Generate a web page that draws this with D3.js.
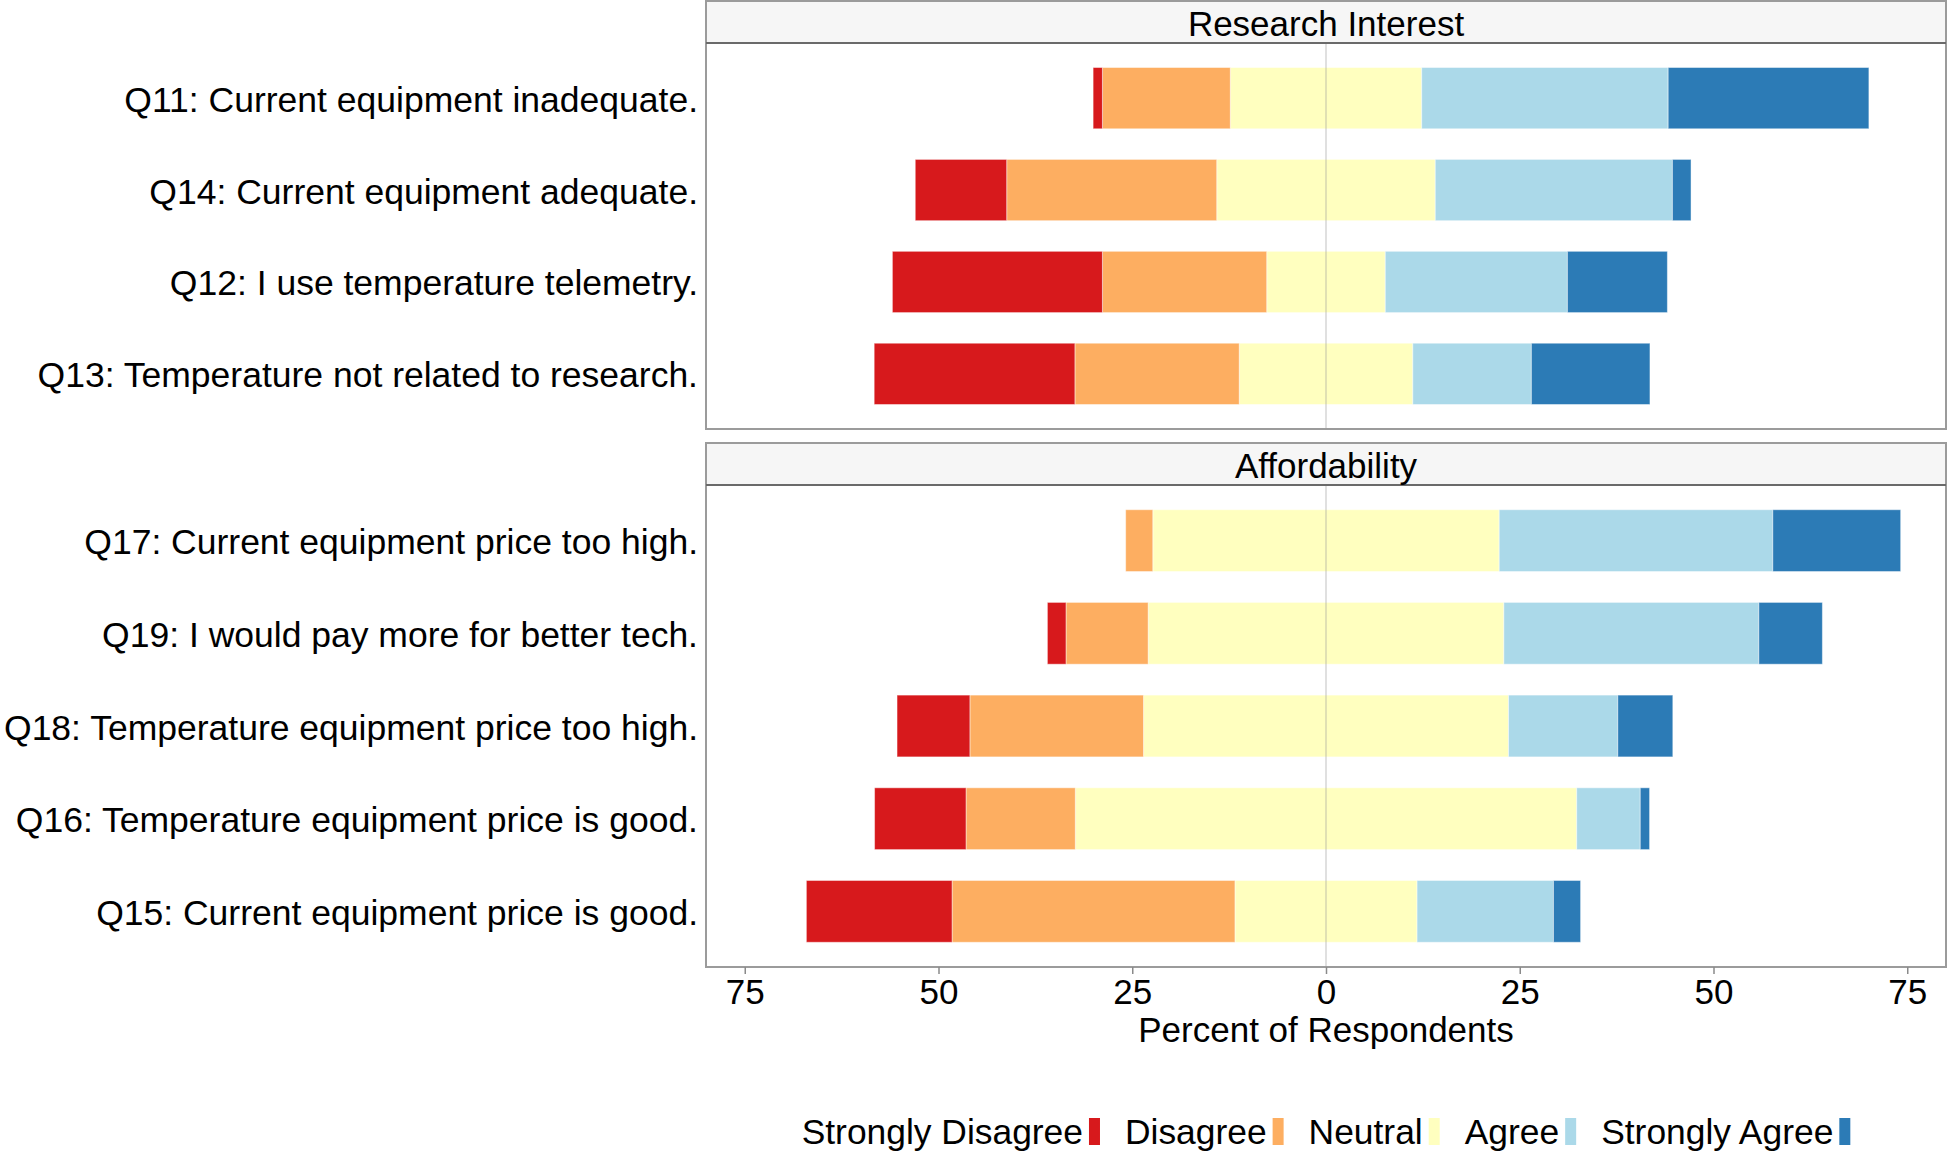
<!DOCTYPE html>
<html>
<head>
<meta charset="utf-8">
<script src="https://cdn.jsdelivr.net/npm/d3@7"></script>
<style>
  html, body { margin: 0; padding: 0; background: #ffffff; }
  svg { display: block; font-family: "Liberation Sans", Arial, Helvetica, sans-serif; }
</style>
</head>
<body>
<svg id="chart" width="1948" height="1154"></svg>
<script>
// ---------------- DATA ----------------
const panels = ["Research Interest", "Affordability"];
const questions = [
  "Q11: Current equipment inadequate.",
  "Q14: Current equipment adequate.",
  "Q12: I use temperature telemetry.",
  "Q13: Temperature not related to research.",
  "Q17: Current equipment price too high.",
  "Q19: I would pay more for better tech.",
  "Q18: Temperature equipment price too high.",
  "Q16: Temperature equipment price is good.",
  "Q15: Current equipment price is good."
];
const questionPanel = [0, 0, 0, 0, 1, 1, 1, 1, 1];
const levels = ["Strongly Disagree", "Disagree", "Neutral", "Agree", "Strongly Agree"];
const levelColors = ["#D7191C", "#FDAE61", "#FFFFBF", "#ABD9E9", "#2C7BB6"];
// percent of respondents per question
const stronglyDisagree = [1.2, 11.8, 27.1, 25.9, 0.0, 2.4, 9.4, 11.8, 18.8];
const disagree         = [16.5, 27.1, 21.2, 21.2, 3.5, 10.6, 22.4, 14.1, 36.5];
const neutral          = [24.7, 28.2, 15.3, 22.4, 44.7, 45.9, 47.1, 64.7, 23.5];
const agree            = [31.8, 30.6, 23.5, 15.3, 35.3, 32.9, 14.1, 8.2, 17.6];
const stronglyAgree    = [25.9, 2.4, 12.9, 15.3, 16.5, 8.2, 7.1, 1.2, 3.5];
const xTicks = [-75, -50, -25, 0, 25, 50, 75];
const xTitle = "Percent of Respondents";

// ---------------- LAYOUT ----------------
const svg = d3.select("#chart");
const FS = 35;
const x = d3.scaleLinear().domain([-80, 80]).range([706, 1946]);
const panelBoxes = [
  { stripTop: 1, stripBottom: 43, top: 43, bottom: 429 },
  { stripTop: 443, stripBottom: 485, top: 485, bottom: 967 }
];

// build segments
const rows = questions.map((q, i) => {
  const v = [stronglyDisagree[i], disagree[i], neutral[i], agree[i], stronglyAgree[i]];
  const segs = [];
  let l = -v[2] / 2;
  segs.push({ level: 2, x0: -v[2] / 2, x1: v[2] / 2 });
  segs.push({ level: 1, x0: l - v[1], x1: l }); l -= v[1];
  segs.push({ level: 0, x0: l - v[0], x1: l });
  let r = v[2] / 2;
  segs.push({ level: 3, x0: r, x1: r + v[3] }); r += v[3];
  segs.push({ level: 4, x0: r, x1: r + v[4] });
  return { q, panel: questionPanel[i], segs: segs.filter(s => s.x1 - s.x0 > 0) };
});

panels.forEach((pname, p) => {
  const box = panelBoxes[p];
  const qs = rows.filter(r => r.panel === p);
  const y = d3.scaleBand()
    .domain(qs.map(r => r.q))
    .range([box.top, box.bottom])
    .paddingInner(1 / 3)
    .paddingOuter(0.2667);

  const g = svg.append("g");
  g.append("rect")
    .attr("x", x.range()[0]).attr("y", box.top)
    .attr("width", x.range()[1] - x.range()[0]).attr("height", box.bottom - box.top)
    .attr("fill", "#ffffff");

  qs.forEach(r => {
    g.selectAll(null)
      .data(r.segs)
      .enter().append("rect")
      .attr("x", d => x(d.x0))
      .attr("width", d => x(d.x1) - x(d.x0))
      .attr("y", y(r.q))
      .attr("height", y.bandwidth())
      .attr("fill", d => levelColors[d.level])
      .attr("stroke", "#ffffff")
      .attr("stroke-opacity", 0.45)
      .attr("stroke-width", 1);
  });

  g.append("line")
    .attr("x1", x(0)).attr("x2", x(0))
    .attr("y1", box.top).attr("y2", box.bottom)
    .attr("stroke", "#999999").attr("stroke-opacity", 0.4).attr("stroke-width", 1.5);

  g.append("rect")
    .attr("x", x.range()[0]).attr("y", box.top)
    .attr("width", x.range()[1] - x.range()[0]).attr("height", box.bottom - box.top)
    .attr("fill", "none").attr("stroke", "#9b9b9b").attr("stroke-width", 2);

  g.append("rect")
    .attr("x", x.range()[0]).attr("y", box.stripTop)
    .attr("width", x.range()[1] - x.range()[0]).attr("height", box.stripBottom - box.stripTop)
    .attr("fill", "#f6f6f6").attr("stroke", "#9b9b9b").attr("stroke-width", 2);
  g.append("line")
    .attr("x1", x.range()[0]).attr("x2", x.range()[1])
    .attr("y1", box.stripBottom).attr("y2", box.stripBottom)
    .attr("stroke", "#6a6a6a").attr("stroke-width", 2);
  g.append("text")
    .attr("x", x(0)).attr("y", (box.stripTop + box.stripBottom) / 2)
    .attr("dy", "0.39em")
    .attr("text-anchor", "middle")
    .attr("font-size", FS).attr("fill", "#000")
    .text(pname);

  const yAxis = d3.axisLeft(y).tickSize(0).tickPadding(8);
  const ya = svg.append("g").attr("transform", `translate(${x.range()[0]},0)`).call(yAxis);
  ya.select(".domain").remove();
  ya.selectAll("text")
    .attr("font-size", 35.5)
    .attr("font-family", "'Liberation Sans', Arial, sans-serif")
    .attr("fill", "#000")
    .attr("dy", "0.38em");
});

const lastBox = panelBoxes[1];
const xAxis = d3.axisBottom(x)
  .tickValues(xTicks)
  .tickFormat(d => Math.abs(d))
  .tickSize(7)
  .tickPadding(5);
const xa = svg.append("g").attr("transform", `translate(0,${lastBox.bottom})`).call(xAxis);
xa.select(".domain").remove();
xa.selectAll(".tick line").attr("stroke", "#8a8a8a").attr("stroke-width", 1.5);
xa.selectAll(".tick text")
  .attr("font-size", FS)
  .attr("font-family", "'Liberation Sans', Arial, sans-serif")
  .attr("fill", "#000");

svg.append("text")
  .attr("x", x(0)).attr("y", 1042)
  .attr("text-anchor", "middle")
  .attr("font-size", FS).attr("fill", "#000")
  .text(xTitle);

const legend = svg.append("g");
const keyW = 11, keyH = 27, gapTK = 6, gapItem = 25;
let cx = 0;
levels.forEach((lv, i) => {
  const t = legend.append("text")
    .attr("x", cx).attr("y", 1144)
    .attr("font-size", 35.4).attr("fill", "#000")
    .text(lv);
  const w = t.node().getComputedTextLength();
  const kx = cx + w + gapTK;
  legend.append("rect")
    .attr("x", kx).attr("y", 1118)
    .attr("width", keyW).attr("height", keyH)
    .attr("fill", levelColors[i]);
  cx = kx + keyW + gapItem;
});
const totalW = cx - gapItem;
legend.attr("transform", `translate(${x(0) - totalW / 2},0)`);
</script>
</body>
</html>
